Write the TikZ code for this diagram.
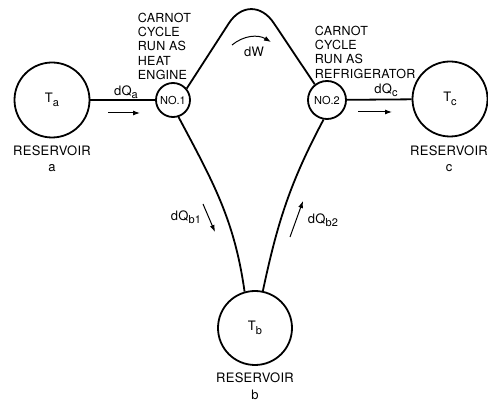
\documentclass[tikz,border=0pt]{standalone}
\usepackage{fontspec}
\setmainfont[LetterSpace=2]{TeX Gyre Heros}
\usetikzlibrary{arrows.meta, positioning}
\newcommand{\lowsub}[1]{\raisebox{-0.5ex}{\fontsize{11}{11}\selectfont #1}}

\begin{document}
\begin{tikzpicture}[x=1pt, y=1pt,
    font=\fontsize{13}{15}\selectfont,
    line width=1.8pt,
    reservoir/.style={circle, draw, minimum size=75pt, inner sep=0pt},
    engine/.style={circle, draw, inner sep=0pt, font=\fontsize{11}{11}\selectfont\addfontfeature{LetterSpace=0}},
    note/.style={align=left, inner sep=0pt, font=\fontsize{12.5}{14.3}\selectfont},
    rlabel/.style={align=center, inner sep=0pt, font=\fontsize{13}{16.5}\selectfont},
    flow/.style={line width=1pt, -{Latex[length=7pt, width=5pt]}}
]
    \useasboundingbox (0,0) rectangle (488,402);

    % reservoirs
    \node[reservoir] (ra) at (52,302) {T\lowsub{a}};
    \node[reservoir] (rc) at (450,303) {T\lowsub{c}};
    \node[reservoir, minimum size=74pt] (rb) at (255,74) {T\lowsub{b}};
    \node[rlabel, below=6pt of ra] {RESERVOIR\\a};
    \node[rlabel, below=7pt of rc, xshift=-1pt] {RESERVOIR\\c};
    \node[rlabel, below=6pt of rb] {RESERVOIR\\b};

    % the two carnot cycles
    \node[engine, minimum size=34pt] (no1) at (173,302) {NO.1};
    \node[engine, minimum size=38pt] (no2) at (327,302) {NO.2};
    \node[note, anchor=north west] at (137,390) {CARNOT\\CYCLE\\RUN AS\\HEAT\\ENGINE};
    \node[note, anchor=north west] at (314,377) {CARNOT\\CYCLE\\RUN AS\\REFRIGERATOR};

    % connections
    \draw (ra) -- (no1);
    \draw (no2) -- (rc);
    \draw[rounded corners=41pt] (no1.40) -- (251,413) -- (no2.128);
    \draw (no1.-72) to[out=-62, in=98] (rb.106);
    \draw (no2.-100) to[out=-118, in=78] (rb.78);

    % heat and work flows
    \coordinate (qa1) at (108,289);
    \coordinate (qa2) at (140,289);
    \coordinate (qc1) at (358,290);
    \coordinate (qc2) at (392,290);
    \coordinate (qb1) at (203,198);
    \coordinate (qb2) at (215,170);
    \coordinate (qd1) at (290,165);
    \coordinate (qd2) at (303,201);
    \coordinate (w1) at (232,357);
    \coordinate (w2) at (271,360);
    \draw[flow] (qa1) -- (qa2);
    \draw[flow] (qc1) -- (qc2);
    \draw[flow] (qb1) -- (qb2);
    \draw[flow] (qd1) -- (qd2);
    \draw[flow] (w1) to[bend left=35] (w2);
    \node (la) at (126,310) {dQ\lowsub{a}};
    \node (lc) at (386,312) {dQ\lowsub{c}};
    \node (lb1) at (186,185) {dQ\lowsub{b1}};
    \node (lb2) at (323,182) {dQ\lowsub{b2}};
    \node (lw) at (254,350) {dW};
\end{tikzpicture}
\end{document}
